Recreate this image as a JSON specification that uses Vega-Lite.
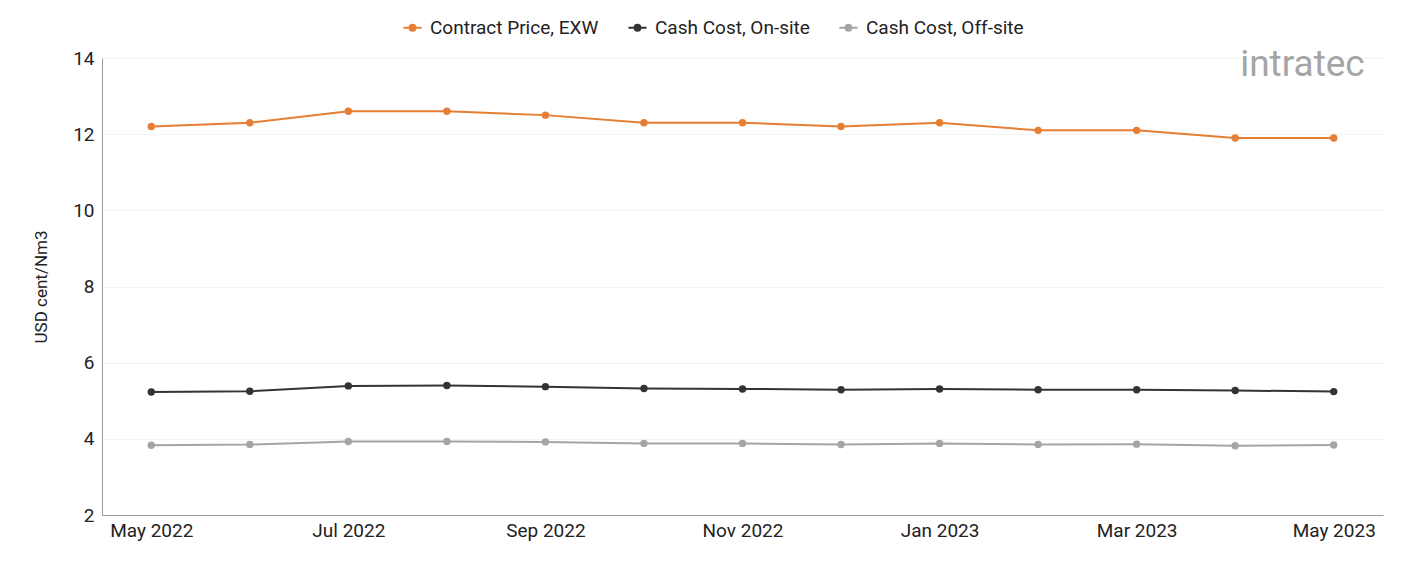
{
  "$schema": "https://vega.github.io/schema/vega-lite/v6.json",
  "width": 1281,
  "height": 457,
  "autosize": {"type": "none"},
  "padding": {"left": 102, "top": 58, "right": 18, "bottom": 46},
  "background": "#ffffff",
  "config": {
    "font": "Roboto",
    "view": {"stroke": null},
    "axis": {
      "labelFont": "Roboto",
      "labelFontSize": 19,
      "labelColor": "#222222",
      "titleFont": "Roboto",
      "titleFontSize": 17,
      "titleFontWeight": "normal",
      "titleColor": "#222222",
      "domainColor": "#9a9a9a",
      "domainWidth": 1,
      "ticks": false,
      "gridColor": "#f3f3f3",
      "gridWidth": 1
    }
  },
  "datasets": {
    "prices": [
      {"month": "May 2022", "series": "Contract Price, EXW", "value": 12.2},
      {"month": "Jun 2022", "series": "Contract Price, EXW", "value": 12.3},
      {"month": "Jul 2022", "series": "Contract Price, EXW", "value": 12.6},
      {"month": "Aug 2022", "series": "Contract Price, EXW", "value": 12.6},
      {"month": "Sep 2022", "series": "Contract Price, EXW", "value": 12.5},
      {"month": "Oct 2022", "series": "Contract Price, EXW", "value": 12.3},
      {"month": "Nov 2022", "series": "Contract Price, EXW", "value": 12.3},
      {"month": "Dec 2022", "series": "Contract Price, EXW", "value": 12.2},
      {"month": "Jan 2023", "series": "Contract Price, EXW", "value": 12.3},
      {"month": "Feb 2023", "series": "Contract Price, EXW", "value": 12.1},
      {"month": "Mar 2023", "series": "Contract Price, EXW", "value": 12.1},
      {"month": "Apr 2023", "series": "Contract Price, EXW", "value": 11.9},
      {"month": "May 2023", "series": "Contract Price, EXW", "value": 11.9},
      {"month": "May 2022", "series": "Cash Cost, On-site", "value": 5.23},
      {"month": "Jun 2022", "series": "Cash Cost, On-site", "value": 5.25},
      {"month": "Jul 2022", "series": "Cash Cost, On-site", "value": 5.39},
      {"month": "Aug 2022", "series": "Cash Cost, On-site", "value": 5.40},
      {"month": "Sep 2022", "series": "Cash Cost, On-site", "value": 5.37},
      {"month": "Oct 2022", "series": "Cash Cost, On-site", "value": 5.32},
      {"month": "Nov 2022", "series": "Cash Cost, On-site", "value": 5.31},
      {"month": "Dec 2022", "series": "Cash Cost, On-site", "value": 5.29},
      {"month": "Jan 2023", "series": "Cash Cost, On-site", "value": 5.31},
      {"month": "Feb 2023", "series": "Cash Cost, On-site", "value": 5.29},
      {"month": "Mar 2023", "series": "Cash Cost, On-site", "value": 5.29},
      {"month": "Apr 2023", "series": "Cash Cost, On-site", "value": 5.27},
      {"month": "May 2023", "series": "Cash Cost, On-site", "value": 5.24},
      {"month": "May 2022", "series": "Cash Cost, Off-site", "value": 3.83},
      {"month": "Jun 2022", "series": "Cash Cost, Off-site", "value": 3.85},
      {"month": "Jul 2022", "series": "Cash Cost, Off-site", "value": 3.93},
      {"month": "Aug 2022", "series": "Cash Cost, Off-site", "value": 3.93},
      {"month": "Sep 2022", "series": "Cash Cost, Off-site", "value": 3.92},
      {"month": "Oct 2022", "series": "Cash Cost, Off-site", "value": 3.88},
      {"month": "Nov 2022", "series": "Cash Cost, Off-site", "value": 3.88},
      {"month": "Dec 2022", "series": "Cash Cost, Off-site", "value": 3.85},
      {"month": "Jan 2023", "series": "Cash Cost, Off-site", "value": 3.88},
      {"month": "Feb 2023", "series": "Cash Cost, Off-site", "value": 3.85},
      {"month": "Mar 2023", "series": "Cash Cost, Off-site", "value": 3.86},
      {"month": "Apr 2023", "series": "Cash Cost, Off-site", "value": 3.82},
      {"month": "May 2023", "series": "Cash Cost, Off-site", "value": 3.84}
    ]
  },
  "layer": [
    {
      "data": {"name": "prices"},
      "mark": {
        "type": "line",
        "strokeWidth": 2,
        "point": {"filled": true, "size": 55, "opacity": 1}
      },
      "encoding": {
        "x": {
          "field": "month",
          "type": "ordinal",
          "sort": null,
          "scale": {"type": "point", "padding": 0.5},
          "axis": {
            "title": null,
            "labelAngle": 0,
            "labelPadding": 6,
            "grid": false,
            "values": ["May 2022", "Jul 2022", "Sep 2022", "Nov 2022", "Jan 2023", "Mar 2023", "May 2023"]
          }
        },
        "y": {
          "field": "value",
          "type": "quantitative",
          "scale": {"domain": [2, 14], "nice": false, "zero": false},
          "axis": {
            "title": "USD cent/Nm3",
            "values": [2, 4, 6, 8, 10, 12, 14],
            "labelPadding": 8,
            "titlePadding": 22
          }
        },
        "color": {
          "field": "series",
          "type": "nominal",
          "scale": {
            "domain": ["Contract Price, EXW", "Cash Cost, On-site", "Cash Cost, Off-site"],
            "range": ["#e67e33", "#333333", "#a5a5a5"]
          },
          "legend": {
            "title": null,
            "orient": "none",
            "direction": "horizontal",
            "legendX": 300,
            "legendY": -41,
            "labelFont": "Roboto",
            "labelFontSize": 19,
            "labelLimit": 400,
            "labelColor": "#222222",
            "symbolType": "M-1,0L1,0M-0.32,0A0.32,0.32 0 1 1 0.32,0A0.32,0.32 0 1 1 -0.32,0",
            "symbolSize": 330,
            "symbolStrokeWidth": 2,
            "symbolOffset": 0,
            "labelOffset": 7,
            "columnPadding": 25
          }
        }
      }
    },
    {
      "data": {"values": [{}]},
      "mark": {
        "type": "text",
        "text": "intratec",
        "font": "Roboto",
        "fontSize": 37,
        "fontWeight": 400,
        "color": "#9c9c9c",
        "align": "right",
        "baseline": "alphabetic",
        "dx": 31,
        "opacity": 0.9
      },
      "encoding": {
        "x": {"datum": "May 2023"},
        "y": {"datum": 13.53}
      }
    }
  ]
}
